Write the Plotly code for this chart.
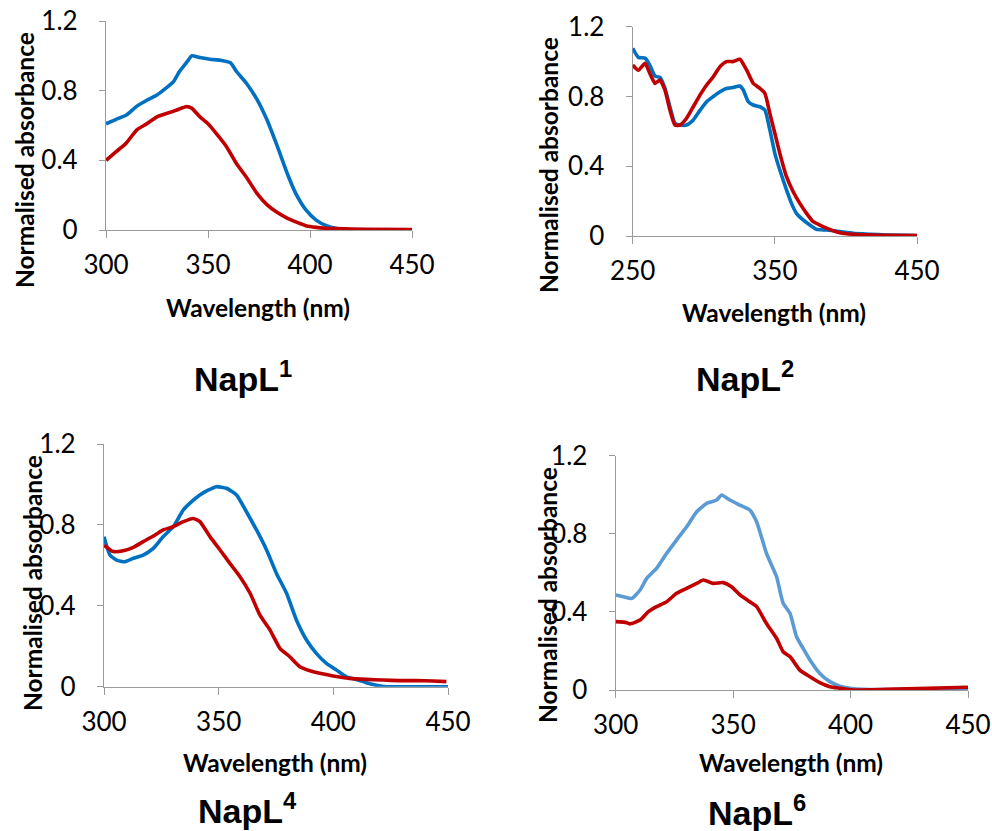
import plotly.graph_objects as go

# ---------------- data ----------------
# NapL1
napl1_blue_wl = [300, 305, 310, 315, 320, 325, 330, 333, 336, 340, 342, 346, 351, 356, 361, 364, 369, 374, 379, 384, 389, 393, 398, 403, 408, 413, 418, 430, 450]
napl1_blue_ab = [0.61, 0.635, 0.66, 0.71, 0.745, 0.775, 0.82, 0.85, 0.91, 0.97, 1.0, 0.99, 0.98, 0.975, 0.96, 0.91, 0.84, 0.75, 0.63, 0.48, 0.32, 0.21, 0.115, 0.057, 0.025, 0.008, 0.0, 0.0, 0.0]
napl1_red_wl = [300, 305, 310, 315, 320, 325, 330, 335, 339, 342, 346, 350, 354, 359, 364, 369, 374, 379, 384, 389, 394, 398, 403, 408, 413, 428, 450]
napl1_red_ab = [0.40, 0.45, 0.50, 0.574, 0.61, 0.65, 0.67, 0.69, 0.708, 0.70, 0.65, 0.61, 0.555, 0.48, 0.38, 0.30, 0.21, 0.144, 0.10, 0.067, 0.042, 0.025, 0.015, 0.01, 0.008, 0.004, 0.002]

# NapL2
napl2_blue_wl = [250, 254, 258.7, 262, 265.7, 269.2, 272.7, 276.2, 279.7, 283.3, 287.9, 292.6, 297.3, 302, 306.7, 311.4, 316, 320.7, 325.4, 327.8, 331.3, 334.8, 339.5, 343, 346.5, 350, 353.5, 358.2, 361.7, 365.2, 369.9, 374.6, 379.3, 386.3, 395.7, 405, 416.7, 428.5, 450]
napl2_blue_ab = [1.076, 1.024, 1.02, 0.98, 0.917, 0.91, 0.847, 0.74, 0.646, 0.636, 0.636, 0.665, 0.72, 0.77, 0.80, 0.827, 0.846, 0.852, 0.86, 0.837, 0.77, 0.751, 0.741, 0.722, 0.608, 0.474, 0.378, 0.264, 0.187, 0.13, 0.092, 0.063, 0.038, 0.034, 0.025, 0.015, 0.01, 0.006, 0.002]
napl2_red_wl = [250, 254, 258.7, 262, 265.7, 269.2, 272.7, 276.2, 279.7, 283.3, 287.9, 292.6, 297.3, 302, 306.7, 311.4, 316, 320.7, 325.4, 330.1, 334.8, 339.5, 343, 346.5, 350, 353.5, 358.2, 362.9, 367.6, 372.3, 377, 381.6, 388.6, 395.7, 405, 428.5, 450]
napl2_red_ab = [0.98, 0.95, 0.99, 0.933, 0.875, 0.894, 0.837, 0.722, 0.636, 0.636, 0.675, 0.741, 0.808, 0.866, 0.913, 0.971, 1.0, 1.0, 1.013, 0.952, 0.875, 0.847, 0.818, 0.703, 0.589, 0.474, 0.34, 0.254, 0.187, 0.13, 0.082, 0.063, 0.038, 0.019, 0.01, 0.004, 0.002]

# NapL4
napl4_blue_wl = [300, 302.6, 305.5, 309.1, 312.8, 317.1, 321.5, 325.8, 330.2, 334.6, 338.2, 341.8, 345.4, 349.1, 353.4, 357.8, 362.1, 366.5, 370.9, 375.2, 379.6, 383.9, 388.3, 392.6, 397, 401.4, 405.7, 410.1, 414.4, 418.8, 423.1, 450]
napl4_blue_ab = [0.742, 0.651, 0.626, 0.618, 0.635, 0.651, 0.684, 0.742, 0.791, 0.874, 0.915, 0.948, 0.972, 0.989, 0.981, 0.948, 0.865, 0.775, 0.676, 0.56, 0.462, 0.33, 0.231, 0.165, 0.115, 0.082, 0.049, 0.036, 0.02, 0.007, 0.0, 0.0]
napl4_red_wl = [300, 304.1, 308.4, 312.8, 317.1, 321.5, 325.8, 330.2, 334.6, 338.9, 341.8, 346.2, 350.6, 354.9, 359.3, 363.7, 368, 372.4, 376.7, 381, 385.4, 389.8, 394.1, 399.9, 407.2, 414.4, 421.7, 428.9, 436.2, 443.5, 449.3]
napl4_red_ab = [0.70, 0.668, 0.672, 0.689, 0.717, 0.745, 0.775, 0.791, 0.816, 0.832, 0.816, 0.742, 0.676, 0.61, 0.544, 0.462, 0.354, 0.28, 0.19, 0.148, 0.099, 0.079, 0.066, 0.053, 0.041, 0.036, 0.033, 0.03, 0.03, 0.028, 0.025]

# NapL6
napl6_blue_wl = [300, 303.3, 306.8, 310.4, 313.2, 317.4, 321.7, 325.9, 330.2, 334.5, 338.7, 343, 345.1, 348.6, 352.9, 357.1, 360, 364.2, 368.5, 371.3, 374.2, 377, 379.8, 382.7, 386.9, 391.2, 395.4, 399.7, 405.3, 450]
napl6_blue_ab = [0.486, 0.478, 0.469, 0.512, 0.572, 0.623, 0.70, 0.768, 0.836, 0.913, 0.956, 0.973, 0.999, 0.973, 0.947, 0.922, 0.862, 0.70, 0.58, 0.444, 0.393, 0.273, 0.213, 0.154, 0.085, 0.043, 0.02, 0.009, 0.003, 0.009]
napl6_red_wl = [300, 304.7, 306.1, 310.4, 313.9, 317.4, 321.7, 325.9, 330.2, 334.5, 337.3, 341.5, 345.8, 349.3, 352.9, 357.1, 360, 364.2, 368.5, 371.3, 374.2, 378.4, 382.7, 386.9, 391.2, 395.4, 401.1, 415.3, 450]
napl6_red_ab = [0.35, 0.345, 0.338, 0.358, 0.401, 0.427, 0.452, 0.495, 0.521, 0.546, 0.563, 0.546, 0.55, 0.529, 0.487, 0.452, 0.427, 0.341, 0.265, 0.196, 0.171, 0.102, 0.068, 0.038, 0.017, 0.009, 0.0, 0.003, 0.014]

panel_titles = ["NapL<sup>1</sup>", "NapL<sup>2</sup>", "NapL<sup>4</sup>", "NapL<sup>6</sup>"]
x_title = "Wavelength (nm)"
y_title = "Normalised absorbance"
y_ticks = [0, 0.4, 0.8, 1.2]
y_tick_text = ["0", "0.4", "0.8", "1.2"]

# ---------------- figure ----------------
W, H = 992, 831
BLUE = "#0070C0"
BLUE_LIGHT = "#5B9BD5"
RED = "#C00000"
AXIS = "#9A9A9A"

panels = [
    dict(blue=(napl1_blue_wl, napl1_blue_ab), red=(napl1_red_wl, napl1_red_ab), blue_color=BLUE,
         xpx=(106, 412), ypx=(230, 21), xrange=[300, 450], xticks=[300, 350, 400, 450]),
    dict(blue=(napl2_blue_wl, napl2_blue_ab), red=(napl2_red_wl, napl2_red_ab), blue_color=BLUE,
         xpx=(632.7, 917), ypx=(236, 26.7), xrange=[250, 450], xticks=[250, 350, 450]),
    dict(blue=(napl4_blue_wl, napl4_blue_ab), red=(napl4_red_wl, napl4_red_ab), blue_color=BLUE,
         xpx=(104, 448), ypx=(686.7, 444), xrange=[300, 450], xticks=[300, 350, 400, 450]),
    dict(blue=(napl6_blue_wl, napl6_blue_ab), red=(napl6_red_wl, napl6_red_ab), blue_color=BLUE_LIGHT,
         xpx=(615.7, 968), ypx=(690, 455.7), xrange=[300, 450], xticks=[300, 350, 400, 450]),
]

# label positions (pixels)
title_pos = [(243, 377), (745, 377), (247, 808), (757, 810)]
xtitle_pos = [(258, 307), (774, 312), (275, 762), (791, 762)]
ytitle_pos = [(24, 160), (549, 165), (32, 583), (547, 595)]

fig = go.Figure()
layout = dict(
    width=W, height=H, margin=dict(l=0, r=0, t=0, b=0, autoexpand=False),
    paper_bgcolor="white", plot_bgcolor="white", showlegend=False,
)

tick_font = dict(family="Lato", size=26, color="#000000")
annotations = []

for i, p in enumerate(panels):
    n = "" if i == 0 else str(i + 1)
    xa, ya = "x" + n, "y" + n
    fig.add_trace(go.Scatter(x=p["blue"][0], y=p["blue"][1], mode="lines",
                             line=dict(color=p["blue_color"], width=3.6, shape="spline", smoothing=0.5),
                             xaxis=xa, yaxis=ya, hoverinfo="skip"))
    fig.add_trace(go.Scatter(x=p["red"][0], y=p["red"][1], mode="lines",
                             line=dict(color=RED, width=3.6, shape="spline", smoothing=0.5),
                             xaxis=xa, yaxis=ya, hoverinfo="skip"))
    xd = [p["xpx"][0] / W, p["xpx"][1] / W]
    yd = [1 - p["ypx"][0] / H, 1 - p["ypx"][1] / H]
    layout["xaxis" + n] = dict(
        domain=xd, range=p["xrange"], tickvals=p["xticks"], anchor=ya, automargin=False,
        showgrid=False, zeroline=False, showline=True, linecolor=AXIS, linewidth=1.3,
        ticks="outside", ticklen=7, tickcolor=AXIS, tickwidth=1.3,
        tickfont=tick_font, ticklabelstandoff=5, layer="below traces",
    )
    layout["yaxis" + n] = dict(
        domain=yd, range=[0, 1.2], tickvals=y_ticks, ticktext=y_tick_text,
        anchor=xa, automargin=False, showgrid=False, zeroline=False, showline=True,
        linecolor=AXIS, linewidth=1.3,
        ticks="outside", ticklen=6, tickcolor=AXIS, tickwidth=1.3,
        tickfont=tick_font, ticklabelstandoff=16, layer="below traces",
    )
    tx, ty = title_pos[i]
    annotations.append(dict(text="<b>" + panel_titles[i] + "</b>", x=tx / W, y=1 - ty / H,
                            xref="paper", yref="paper", showarrow=False,
                            xanchor="center", yanchor="middle", borderpad=0,
                            font=dict(family="Liberation Sans", size=34, color="#000000")))
    xx, xy = xtitle_pos[i]
    annotations.append(dict(text="<b>" + x_title + "</b>", x=xx / W, y=1 - xy / H,
                            xref="paper", yref="paper", showarrow=False,
                            xanchor="center", yanchor="middle",
                            font=dict(family="Lato", size=24.5, color="#000000")))
    yx, yy = ytitle_pos[i]
    annotations.append(dict(text="<b>" + y_title + "</b>", x=yx / W, y=1 - yy / H,
                            xref="paper", yref="paper", showarrow=False, textangle=-90,
                            xanchor="center", yanchor="middle",
                            font=dict(family="Lato", size=24.5, color="#000000")))

layout["annotations"] = annotations
fig.update_layout(**layout)

fig.write_html("out.html", config={"displayModeBar": False},
               post_script="document.body.style.margin='0';document.body.style.overflow='hidden';")
